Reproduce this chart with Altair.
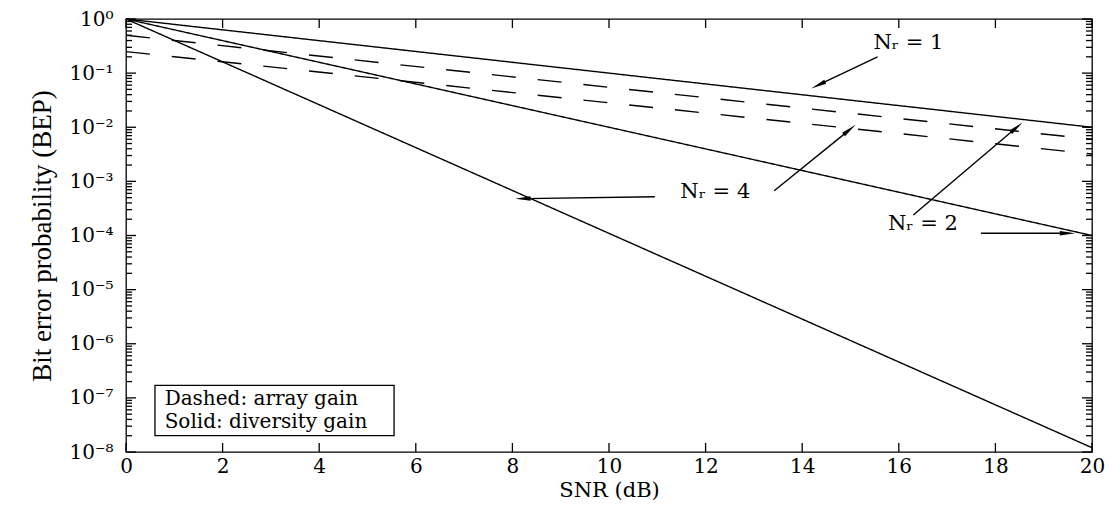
import math
import altair as alt
import pandas as pd

# ---------------- data ----------------
snr_db = [0, 20]
bep_nr1_div = [1.0, 1.0e-2]
bep_nr2_div = [1.0, 1.0e-4]
bep_nr4_div = [1.0, 1.2e-8]
bep_nr2_arr = [0.5, 6.0e-3]
bep_nr4_arr = [0.25, 3.2e-3]

series_names = ["Nr=1", "Nr=2 diversity", "Nr=4 diversity", "Nr=2 array", "Nr=4 array"]
series_styles = ["solid", "solid", "solid", "dashed", "dashed"]
series_values = [bep_nr1_div, bep_nr2_div, bep_nr4_div, bep_nr2_arr, bep_nr4_arr]

x_tick_values = [0, 2, 4, 6, 8, 10, 12, 14, 16, 18, 20]
y_major_values = [1e-8, 1e-7, 1e-6, 1e-5, 1e-4, 1e-3, 1e-2, 1e-1, 1.0]
y_major_labels = ["10⁻⁸", "10⁻⁷", "10⁻⁶", "10⁻⁵", "10⁻⁴", "10⁻³", "10⁻²", "10⁻¹", "10⁰"]

label_text = ["Nᵣ = 1", "Nᵣ = 4", "Nᵣ = 2"]
label_x = [16.2, 12.2, 16.5]
label_y = [0.36, 6.4e-4, 1.6e-4]

arrow_x_tail = [15.56, 10.95, 13.42, 16.3, 17.7]
arrow_y_tail = [0.2, 5.2e-4, 6.7e-4, 2.4e-4, 1.1e-4]
arrow_x_head = [14.38, 8.27, 14.94, 18.4, 19.44]
arrow_y_head = [0.063, 4.8e-4, 8.4e-3, 9.3e-3, 1.1e-4]

legend_lines = ["Dashed: array gain", "Solid: diversity gain"]
legend_line_x = [0.8, 0.8]
legend_line_y = [9.6e-8, 3.6e-8]
legend_box_x = [0.6, 5.55]
legend_box_y = [2.0e-8, 1.7e-7]

# ---------------- layout ----------------
W, H = 966, 433
PAD = {"left": 118, "top": 11, "right": 15, "bottom": 60}
SERIF = "DejaVu Serif"
MAJ, MIN = 10, 6

rows = []
for name, style, vals in zip(series_names, series_styles, series_values):
    for x, v in zip(snr_db, vals):
        rows.append({"series": name, "style": style, "snr": x, "bep": v})
lines_df = pd.DataFrame(rows)

# arrow head angles (screen direction, from data positions and plot size)
angles = []
for xt, yt, xh, yh in zip(arrow_x_tail, arrow_y_tail, arrow_x_head, arrow_y_head):
    dx = (xh - xt) * W / 20.0
    dy = (math.log10(yt) - math.log10(yh)) * H / 8.0
    angles.append(math.degrees(math.atan2(dx, -dy)) % 360)
arrows_df = pd.DataFrame({"xt": arrow_x_tail, "yt": arrow_y_tail,
                          "xh": arrow_x_head, "yh": arrow_y_head, "angle": angles})
labels_df = pd.DataFrame({"text": label_text, "x": label_x, "y": label_y})
legend_df = pd.DataFrame({"text": legend_lines, "x": legend_line_x, "y": legend_line_y})
box_df = pd.DataFrame({"x0": [legend_box_x[0]], "x1": [legend_box_x[1]],
                       "y0": [legend_box_y[0]], "y1": [legend_box_y[1]]})

y_minor_ticks = [m * 10.0 ** k for k in range(-8, 0) for m in range(2, 10)]
label_map = "{" + ",".join(f"'{i}':'{s}'" for i, s in enumerate(y_major_labels)) + "}"
y_label_expr = f"{label_map}[''+round(log(datum.value)/LN10 + 8)]"

xscale = alt.Scale(domain=[0, 20], nice=False, zero=False)
yscale = alt.Scale(type="log", domain=[1e-8, 1.0], nice=False)

y_axis = alt.Axis(
    values=y_major_values, labelExpr=y_label_expr, grid=False, domain=False,
    ticks=False, labelPadding=13,
    labelFont=SERIF, labelFontSize=20, labelColor="black",
    title="Bit error probability (BEP)", titleFont="Liberation Serif",
    titleFontSize=27, titleFontWeight="normal", titleColor="black", titlePadding=12,
)
x_axis = alt.Axis(
    values=x_tick_values, grid=False, domain=False, ticks=False, labelPadding=4,
    labelFont=SERIF, labelFontSize=20, labelColor="black",
    labelFlush=False,
    title="SNR (dB)", titleFont=SERIF, titleFontSize=21, titleFontWeight="normal",
    titleColor="black", titlePadding=3,
)

lines = alt.Chart(lines_df).mark_line(color="black", strokeWidth=1.4).encode(
    x=alt.X("snr:Q", scale=xscale, axis=x_axis),
    y=alt.Y("bep:Q", scale=yscale, axis=y_axis),
    detail="series:N",
    strokeDash=alt.StrokeDash("style:N",
                              scale=alt.Scale(domain=["solid", "dashed"], range=[[1, 0], [24, 22]]),
                              legend=None),
)

# inward axis ticks (MATLAB style), drawn on all four sides as short rules
ymaj_df = pd.DataFrame({"v": y_major_values})
ymin_df = pd.DataFrame({"v": y_minor_ticks})
xt_df = pd.DataFrame({"v": x_tick_values})


def ytick(df, length, at_right):
    x0, x1 = (W - length, W) if at_right else (0, length)
    return alt.Chart(df).mark_rule(color="black", strokeWidth=1.3).encode(
        x=alt.value(x0), x2=alt.value(x1), y=alt.Y("v:Q", scale=yscale, axis=None))


def xtick(df, length, at_top):
    y0, y1 = (0, length) if at_top else (H - length, H)
    return alt.Chart(df).mark_rule(color="black", strokeWidth=1.3).encode(
        y=alt.value(y0), y2=alt.value(y1), x=alt.X("v:Q", scale=xscale, axis=None))


ticks = [ytick(ymaj_df, MAJ, False), ytick(ymaj_df, MAJ, True),
         ytick(ymin_df, MIN, False), ytick(ymin_df, MIN, True),
         xtick(xt_df, 9, False), xtick(xt_df, 9, True)]

shafts = alt.Chart(arrows_df).mark_rule(color="black", strokeWidth=1.4).encode(
    x=alt.X("xt:Q", scale=xscale, axis=None), y=alt.Y("yt:Q", scale=yscale, axis=None),
    x2="xh:Q", y2="yh:Q",
)
heads = alt.Chart(arrows_df).mark_point(shape="wedge", filled=True, color="black",
                                        size=320, opacity=1).encode(
    x=alt.X("xh:Q", scale=xscale, axis=None), y=alt.Y("yh:Q", scale=yscale, axis=None),
    angle=alt.Angle("angle:Q", scale=None),
)
labels = alt.Chart(labels_df).mark_text(font=SERIF, fontSize=21, color="black",
                                        align="center", baseline="middle").encode(
    x=alt.X("x:Q", scale=xscale, axis=None), y=alt.Y("y:Q", scale=yscale, axis=None),
    text="text:N",
)
box = alt.Chart(box_df).mark_rect(fill="white", stroke="black", strokeWidth=1.3).encode(
    x=alt.X("x0:Q", scale=xscale, axis=None), x2="x1:Q",
    y=alt.Y("y0:Q", scale=yscale, axis=None), y2="y1:Q",
)
legend_text = alt.Chart(legend_df).mark_text(font=SERIF, fontSize=20, color="black",
                                             align="left", baseline="middle").encode(
    x=alt.X("x:Q", scale=xscale, axis=None), y=alt.Y("y:Q", scale=yscale, axis=None),
    text="text:N",
)

chart = alt.layer(lines, *ticks, shafts, heads, labels, box, legend_text).resolve_axis(
    x="independent", y="independent"
).properties(
    width=W, height=H,
    autosize=alt.AutoSizeParams(type="none"),
    padding=PAD,
    background="white",
).configure_view(stroke="black", strokeWidth=1.3)

chart.save("out.html", embed_options={"renderer": "svg", "actions": False})
